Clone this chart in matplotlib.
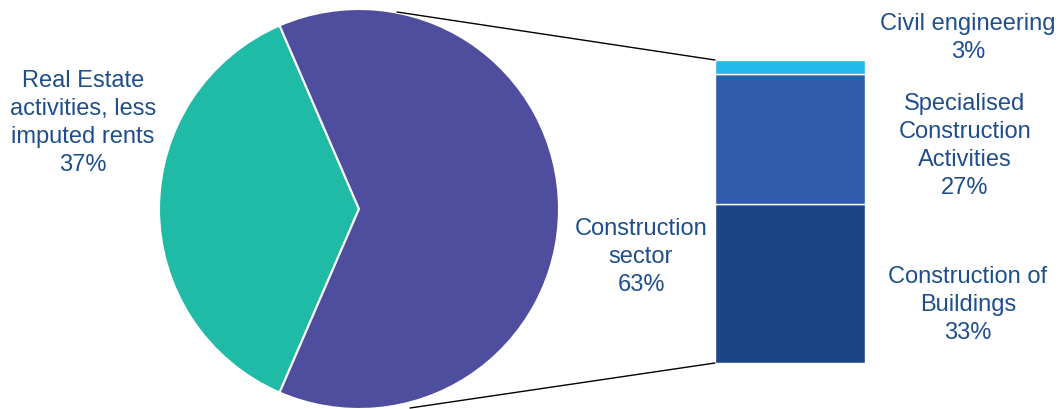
import matplotlib.pyplot as plt
from matplotlib.patches import ConnectionPatch

plt.rcParams['font.family'] = ['Liberation Sans', 'DejaVu Sans']

# pie data
pie_labels = ['Real Estate\nactivities, less\nimputed rents', 'Construction\nsector']
pie_values = [37, 63]
pie_colors = ['#1FBBA7', '#4F4E9E']

# breakdown of construction sector (bottom to top)
bar_labels = ['Construction of\nBuildings', 'Specialised\nConstruction\nActivities', 'Civil engineering']
bar_values = [33, 27, 3]
bar_colors = ['#1B4586', '#2E5CA8', '#22B8EA']

txt_col = '#1F4E8C'
fs = 17
ls = 1.35
W, H = 1059, 410

fig = plt.figure(figsize=(W / 100, H / 100), dpi=100)
ax = fig.add_axes([0, 0, 1, 1])
wedges, _ = ax.pie(pie_values, colors=pie_colors, startangle=180 - pie_values[0] / 100 * 180,
                   center=(359, 200), radius=200, counterclock=True,
                   wedgeprops=dict(edgecolor='white', linewidth=1.5))
ax.set_xlim(0, W)
ax.set_ylim(0, H)
ax.set_aspect('equal')
ax.axis('off')

ax.text(83, 287, pie_labels[0] + '\n%d%%' % pie_values[0], ha='center', va='center',
        fontsize=fs, color=txt_col, linespacing=ls)
ax.text(641, 153, pie_labels[1] + '\n%d%%' % pie_values[1], ha='center', va='center',
        fontsize=fs, color=txt_col, linespacing=ls)

# stacked bar
bx = fig.add_axes([715 / W, (H - 364) / H, 150 / W, 303 / H])
bottom = 0
for v, c in zip(bar_values, bar_colors):
    bx.bar(0, v, width=1, bottom=bottom, color=c, edgecolor='white', linewidth=1)
    bottom += v
bx.set_xlim(-0.5, 0.5)
bx.set_ylim(0, sum(bar_values))
bx.axis('off')

label_y = [105, 264, 372]
label_x = [968, 965, 968]
for lab, v, x, y in zip(bar_labels, bar_values, label_x, label_y):
    ax.text(x, y, lab + '\n%d%%' % v, ha='center', va='center',
            fontsize=fs, color=txt_col, linespacing=ls)

# connector lines
con1 = ConnectionPatch(xyA=(397, 397), coordsA=ax.transData,
                       xyB=(-0.5, sum(bar_values)), coordsB=bx.transData,
                       color='black', linewidth=1)
con2 = ConnectionPatch(xyA=(410, 1), coordsA=ax.transData,
                       xyB=(-0.5, 0), coordsB=bx.transData,
                       color='black', linewidth=1)
fig.add_artist(con1)
fig.add_artist(con2)

fig.savefig('out.png', dpi=100)
